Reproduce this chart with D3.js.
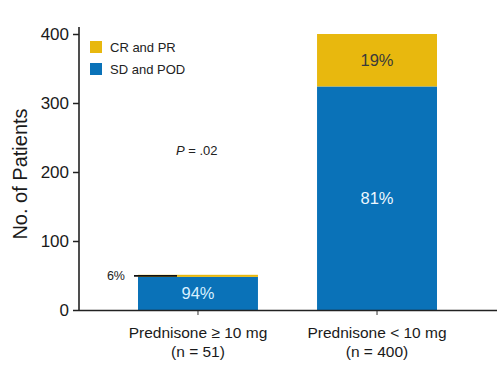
<!DOCTYPE html>
<html><head><meta charset="utf-8">
<script src="https://cdn.jsdelivr.net/npm/d3@7"></script>
<style>body{margin:0;background:#fff}text{font-family:"Liberation Sans",Arial,sans-serif}</style>
</head><body><svg id="c" width="502" height="366"></svg>
<script>
const categories = ["Prednisone ≥ 10 mg", "Prednisone < 10 mg"];
const nLabels = ["(n = 51)", "(n = 400)"];
const sdPod = [48, 324];
const crPr = [3, 76];
const sdPct = ["94%", "81%"];
const crPct = ["6%", "19%"];
const yTicks = [0, 100, 200, 300, 400];
const series = ["CR and PR", "SD and POD"];
const colors = {"CR and PR": "#E8B80E", "SD and POD": "#0A72B8"};

const svg = d3.select("#c");
const x0 = 79, x1 = 497, yb = 310, yt = 34;
const y = d3.scaleLinear().domain([0, 400]).range([yb, yt]);
const x = d3.scaleBand().domain(categories).range([138, 437]).paddingInner(0.33).paddingOuter(0);

// bars
const data = categories.map((c, i) => ({c, sd: sdPod[i], cr: crPr[i]}));
const g = svg.append("g");
g.selectAll("rect.sd").data(data).join("rect")
  .attr("x", d => x(d.c)).attr("width", x.bandwidth())
  .attr("y", d => y(d.sd)).attr("height", d => y(0) - y(d.sd))
  .attr("fill", colors["SD and POD"]);
g.selectAll("rect.cr").data(data).join("rect")
  .attr("x", d => x(d.c)).attr("width", x.bandwidth())
  .attr("y", d => y(d.sd + d.cr)).attr("height", d => y(d.sd) - y(d.sd + d.cr))
  .attr("fill", colors["CR and PR"]);

// y axis
const ya = svg.append("g").attr("transform", `translate(${x0},0)`)
  .call(d3.axisLeft(y).tickValues(yTicks).tickSize(6).tickSizeOuter(0).tickPadding(4));
ya.select(".domain").remove();
ya.selectAll("line").attr("stroke", "#222").attr("stroke-width", 1.5);
ya.selectAll("text").attr("font-size", 17).attr("fill", "#1a1a1a")
  .attr("font-family", "Liberation Sans, Arial, sans-serif");
svg.append("line").attr("x1", x0).attr("x2", x0).attr("y1", 27).attr("y2", yb + 1)
  .attr("stroke", "#222").attr("stroke-width", 1.6);

// x axis
const xa = svg.append("g").attr("transform", `translate(0,${yb})`)
  .call(d3.axisBottom(x).tickSize(5).tickSizeOuter(0).tickFormat(""));
xa.select(".domain").remove();
xa.selectAll("line").attr("stroke", "#555").attr("stroke-width", 1.2);
svg.append("line").attr("x1", x0).attr("x2", x1).attr("y1", yb + 0.5).attr("y2", yb + 0.5)
  .attr("stroke", "#222").attr("stroke-width", 1.6);

// category labels
categories.forEach((c, i) => {
  const cx = x(c) + x.bandwidth() / 2;
  svg.append("text").attr("x", cx).attr("y", 338).attr("text-anchor", "middle")
    .attr("font-size", 15.5).attr("fill", "#1a1a1a").text(c);
  svg.append("text").attr("x", cx).attr("y", 357).attr("text-anchor", "middle")
    .attr("font-size", 15.5).attr("fill", "#1a1a1a").text(nLabels[i]);
});

// y label
svg.append("text").attr("transform", `translate(27,${(yb + yt) / 2 + 2}) rotate(-90)`)
  .attr("text-anchor", "middle").attr("font-size", 20).attr("fill", "#1a1a1a").text("No. of Patients");

// percentage labels
const bw = x.bandwidth();
svg.append("text").attr("x", x(categories[0]) + bw / 2).attr("y", (y(sdPod[0]) + y(0)) / 2 + 6)
  .attr("text-anchor", "middle").attr("font-size", 16.5).attr("fill", "#d8f0ff").text(sdPct[0]);
svg.append("text").attr("x", x(categories[1]) + bw / 2).attr("y", (y(sdPod[1]) + y(0)) / 2 + 6)
  .attr("text-anchor", "middle").attr("font-size", 16.5).attr("fill", "#eef8ff").text(sdPct[1]);
svg.append("text").attr("x", x(categories[1]) + bw / 2).attr("y", (y(sdPod[1]) + y(sdPod[1] + crPr[1])) / 2 + 6)
  .attr("text-anchor", "middle").attr("font-size", 16.5).attr("fill", "#3a3a3a").text(crPct[1]);
// 6% callout
const yc = y(sdPod[0] + crPr[0] / 2);
svg.append("line").attr("x1", 134).attr("x2", x(categories[0]) + 39).attr("y1", yc).attr("y2", yc)
  .attr("stroke", "#111").attr("stroke-width", 1.6);
svg.append("text").attr("x", 125).attr("y", yc + 4).attr("text-anchor", "end")
  .attr("font-size", 12.5).attr("fill", "#222").text(crPct[0]);

// P value
const pt = svg.append("text").attr("x", 176).attr("y", 155).attr("font-size", 13).attr("fill", "#222");
pt.append("tspan").attr("font-style", "italic").text("P");
pt.append("tspan").text(" = .02");

// legend
series.forEach((s, i) => {
  svg.append("rect").attr("x", 90).attr("y", 41 + i * 22).attr("width", 12).attr("height", 12).attr("fill", colors[s]);
  svg.append("text").attr("x", 110).attr("y", 52 + i * 22).attr("font-size", 13).attr("fill", "#222").text(s);
});
</script></body></html>
